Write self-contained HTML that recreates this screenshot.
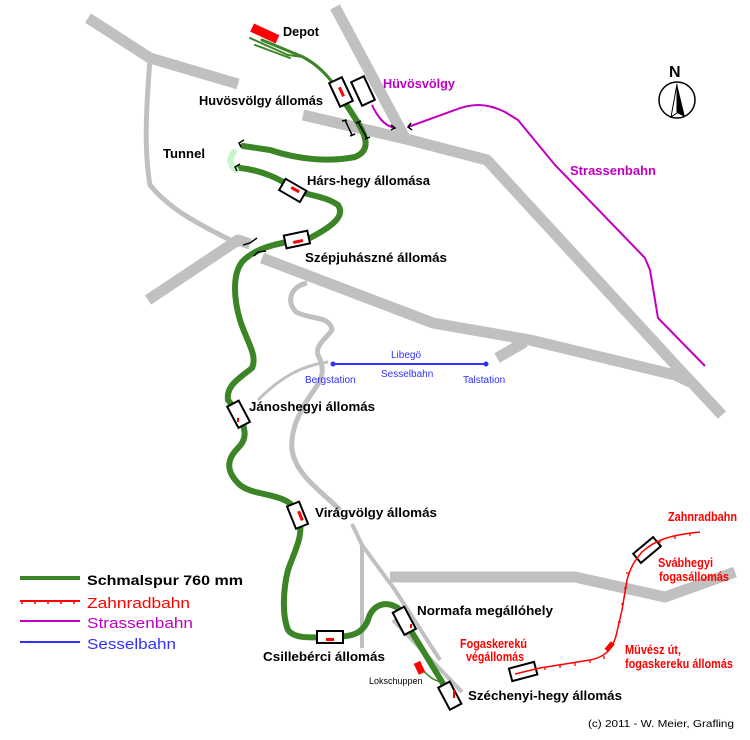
<!DOCTYPE html>
<html><head><meta charset="utf-8"><style>
body{margin:0;background:#fff}
svg{display:block}
text{font-family:"Liberation Sans",Arial,sans-serif}
.b{font-weight:bold;font-size:13px;fill:#000}
.r{font-weight:bold;font-size:12.5px;fill:#f00}
</style></head><body>
<svg width="750" height="740" viewBox="0 0 750 740" xmlns="http://www.w3.org/2000/svg">
<rect width="750" height="740" fill="#fff"/>
<g fill="none" stroke="#c0c0c0" stroke-linecap="butt" stroke-linejoin="round">
 <path d="M88,18 L150,58 L238,84" stroke-width="11"/>
 <path d="M150,60 C146,110 144,150 150,185 C170,210 200,225 240,245" stroke-width="5"/>
 <path d="M148,300 L238,240 L250,244" stroke-width="11"/>
 <path d="M335,7 L405,138" stroke-width="11"/>
 <path d="M303,115 L410,140 L487,160 L680,370 L722,415" stroke-width="11"/>
 <path d="M262,258 L433,323 L530,340 L675,375 L690,382" stroke-width="11"/>
 <path d="M497,358 L525,342" stroke-width="11"/>
 <path d="M390,577 L575,577 L665,597 L735,572" stroke-width="11"/>
 <path d="M307,283 C292,286 285,300 296,312 C310,320 330,315 332,330 C325,340 315,345 318,355 C326,370 322,380 312,393 C300,410 290,430 292,450 C296,475 320,490 340,510" stroke-width="5"/>
 <path d="M328,362 C300,366 280,378 258,400" stroke-width="3"/>
 <path d="M352,524 L362,545 L362,648" stroke-width="4"/>
 <path d="M362,545 L395,590 L440,660" stroke-width="4"/>
 <path d="M393,620 L462,692" stroke-width="4"/>
</g>
<path d="M372,105 C378,118 385,126 395,128 M408,127 L455,110 C470,104 485,102 505,112 L518,120 L555,165 L645,258 L650,270 L658,318 L705,366" fill="none" stroke="#c000c0" stroke-width="2"/>
<g fill="none" stroke="#3b8526" stroke-linejoin="round" stroke-linecap="round">
 <path d="M250,38 L288,55 L303,57 M255,45 L290,58" stroke-width="2"/>
 <path d="M262,40 L303,57 C318,65 328,76 335,86" stroke-width="3"/>
 <path d="M340,95 L355,118 C366,135 372,150 355,157 C330,162 300,160 270,150 L243,146" stroke-width="6"/>
 <path d="M240,168 C260,170 280,178 295,190 C310,196 325,196 338,205 C345,215 335,225 310,238 L298,240 C275,244 255,248 242,262 C232,275 234,300 240,320 C246,340 258,355 252,368 C240,378 226,385 228,400 L240,415 C245,430 248,438 238,448 C226,460 226,472 240,485 C255,497 285,492 296,510 L299,518 C304,535 295,550 288,570 C283,590 282,615 288,630 C295,640 315,637 330,637 C350,637 362,635 368,620 C372,605 385,600 398,608 L405,621 L450,695" stroke-width="6"/>
 <path d="M234,152 C228,158 230,166 236,170" stroke="#c8f5c8" stroke-width="6"/>
 <path d="M420,668 C428,675 432,680 441,682" stroke-width="1.5"/>
</g>
<g fill="none" stroke="#000" stroke-width="1.5">
 <path d="M244,140 L239,143 L241,147 M240,164 L235,167 L237,171"/>
 <path d="M345,120 L352,135 M342,121 L347,120 M350,136 L355,134"/>
 <path d="M358,122 L367,138 M356,123 L361,121 M365,139 L370,137"/>
 <path d="M243,245 L250,243 L257,238 M254,256 L258,252 L266,251"/>
 <path d="M391,125 L395,128 L391,130 M411,123 L408,127 L412,130"/>
</g>
<rect x="251" y="29" width="28" height="9" fill="#f00" transform="rotate(25 265 33)"/>
<g fill="#fff" stroke="#000" stroke-width="2">
 <rect x="334" y="79" width="14" height="26" transform="rotate(-25 341 92)"/>
 <rect x="356" y="78" width="14" height="26" transform="rotate(-25 363 91)"/>
 <rect x="281" y="184" width="24" height="13" transform="rotate(30 293 190)"/>
 <rect x="285" y="233" width="24" height="13" transform="rotate(-12 297 240)"/>
 <rect x="232" y="402" width="13" height="24" transform="rotate(-28 239 414)"/>
 <rect x="291" y="503" width="13" height="24" transform="rotate(-22 298 515)"/>
 <rect x="317" y="631" width="26" height="12"/>
 <rect x="398" y="608" width="13" height="25" transform="rotate(-28 405 621)"/>
 <rect x="443" y="683" width="13" height="25" transform="rotate(-28 450 695)"/>
 <rect x="510" y="665" width="26" height="13" transform="rotate(-15 523 671)"/>
 <rect x="634" y="544" width="26" height="12" transform="rotate(-40 647 550)"/>
</g>
<g fill="#f00">
 <rect x="340" y="87" width="3" height="10" transform="rotate(-25 341 92)"/>
 <rect x="291" y="188" width="9" height="3" transform="rotate(30 295 189)"/>
 <rect x="293" y="240" width="10" height="3" transform="rotate(-12 298 241)"/>
 <rect x="237" y="418" width="2" height="4"/>
 <rect x="299" y="511" width="3" height="10" transform="rotate(-22 300 516)"/>
 <rect x="326" y="638" width="8" height="3"/>
 <rect x="410" y="624" width="2" height="4"/>
 <rect x="453" y="690" width="2" height="8"/>
 <rect x="416" y="662" width="7" height="12" transform="rotate(-25 419 668)"/>
 <rect x="607" y="642" width="5" height="10" transform="rotate(40 610 647)"/>
</g>
<path d="M515,674 L540,668 L590,660 C605,657 612,650 616,636 L622,610 L627,580 C630,568 635,560 642,552 C655,540 670,535 700,532" fill="none" stroke="#f00" stroke-width="1.5"/>
<g stroke="#f00" stroke-width="1.3">
 <path d="M545,667v3 M560,665v3 M575,663v3 M590,660v3 M604,656v3 M618,622h3 M621,604h3 M624,588h3 M626,573h3 M660,540v3 M675,536v3 M690,533v3"/>
</g>
<line x1="333" y1="364" x2="486" y2="364" stroke="#3030ff" stroke-width="2"/>
<circle cx="333" cy="364" r="2.5" fill="#3030ff"/><circle cx="486" cy="364" r="2.5" fill="#3030ff"/>
<g fill="#3030ff" font-size="10"><text x="391" y="358">Libegö</text><text x="381" y="377">Sesselbahn</text><text x="305" y="383">Bergstation</text><text x="463" y="383">Talstation</text></g>
<text x="669" y="77" font-size="16" font-weight="bold">N</text>
<circle cx="677" cy="100" r="18" fill="#fff" stroke="#000" stroke-width="1.5"/>
<path d="M677,84 L671,117 L677,113 Z" fill="#fff" stroke="#000"/><path d="M677,84 L685,117 L677,113 Z" fill="#000"/>
<text class="b" x="283" y="36" textLength="36" lengthAdjust="spacingAndGlyphs">Depot</text>
<text class="b" x="199" y="105" textLength="124" lengthAdjust="spacingAndGlyphs">Huvösvölgy állomás</text>
<text class="b" x="163" y="158" textLength="42" lengthAdjust="spacingAndGlyphs">Tunnel</text>
<text class="b" x="307" y="185" textLength="123" lengthAdjust="spacingAndGlyphs">Hárs-hegy állomása</text>
<text class="b" x="305" y="262" textLength="142" lengthAdjust="spacingAndGlyphs">Szépjuhászné állomás</text>
<text class="b" x="249" y="411" textLength="126" lengthAdjust="spacingAndGlyphs">Jánoshegyi állomás</text>
<text class="b" x="315" y="517" textLength="122" lengthAdjust="spacingAndGlyphs">Virágvölgy állomás</text>
<text class="b" x="417" y="615" textLength="136" lengthAdjust="spacingAndGlyphs">Normafa megállóhely</text>
<text class="b" x="263" y="661" textLength="122" lengthAdjust="spacingAndGlyphs">Csillebérci állomás</text>
<text class="b" x="468" y="700" textLength="154" lengthAdjust="spacingAndGlyphs">Széchenyi-hegy állomás</text>
<text x="369" y="684" font-size="9">Lokschuppen</text>
<text x="588" y="727" font-size="10" textLength="146" lengthAdjust="spacingAndGlyphs">(c) 2011  -  W. Meier, Grafling</text>
<text x="383" y="88" font-size="12.5" font-weight="bold" fill="#c000c0" textLength="72" lengthAdjust="spacingAndGlyphs">Hüvösvölgy</text>
<text x="570" y="175" font-size="12.5" font-weight="bold" fill="#c000c0" textLength="86" lengthAdjust="spacingAndGlyphs">Strassenbahn</text>
<text class="r" x="668" y="521" textLength="69" lengthAdjust="spacingAndGlyphs">Zahnradbahn</text>
<text class="r" x="658" y="567" textLength="55" lengthAdjust="spacingAndGlyphs">Svábhegyi</text>
<text class="r" x="659" y="581" textLength="70" lengthAdjust="spacingAndGlyphs">fogasállomás</text>
<text class="r" x="460" y="648" textLength="67" lengthAdjust="spacingAndGlyphs">Fogaskerekú</text>
<text class="r" x="466" y="661" textLength="58" lengthAdjust="spacingAndGlyphs">végállomás</text>
<text class="r" x="625" y="654" textLength="56" lengthAdjust="spacingAndGlyphs">Müvész út,</text>
<text class="r" x="625" y="668" textLength="108" lengthAdjust="spacingAndGlyphs">fogaskereku állomás</text>
<line x1="20" y1="578" x2="80" y2="578" stroke="#3b8526" stroke-width="4"/>
<line x1="20" y1="601" x2="80" y2="601" stroke="#f00" stroke-width="2"/>
<path d="M22,601v3 M35,601v3 M48,601v3 M61,601v3 M74,601v3" stroke="#f00" stroke-width="1.5"/>
<line x1="20" y1="621" x2="80" y2="621" stroke="#c000c0" stroke-width="2"/>
<line x1="20" y1="642" x2="80" y2="642" stroke="#3030ff" stroke-width="2"/>
<text x="87" y="585" font-size="14" font-weight="bold" textLength="156" lengthAdjust="spacingAndGlyphs">Schmalspur 760 mm</text>
<text x="87" y="608" font-size="15" fill="#f00" textLength="103" lengthAdjust="spacingAndGlyphs">Zahnradbahn</text>
<text x="87" y="628" font-size="15" fill="#c000c0" textLength="106" lengthAdjust="spacingAndGlyphs">Strassenbahn</text>
<text x="87" y="649" font-size="15" fill="#3030ff" textLength="89" lengthAdjust="spacingAndGlyphs">Sesselbahn</text>
</svg>
</body></html>
